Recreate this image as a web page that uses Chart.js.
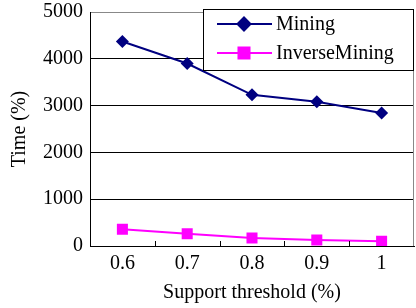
<!DOCTYPE html>
<html>
<head>
<meta charset="utf-8">
<script src="https://cdn.jsdelivr.net/npm/chart.js@4"></script>
<style>
  html, body { margin: 0; padding: 0; background: #fff; }
  #wrap { width: 416px; height: 308px; position: relative; }
</style>
</head>
<body>
<div id="wrap"><canvas id="c"></canvas></div>
<script>
  // support threshold (%) on x, time on y
  const thresholds = ["0.6", "0.7", "0.8", "0.9", "1"];
  const mining = [4370, 3900, 3230, 3080, 2840];
  const inverseMining = [360, 260, 170, 130, 100];
  const yTicks = [0, 1000, 2000, 3000, 4000, 5000];

  const FONT = "'Liberation Serif', 'Times New Roman', serif";

  // inward tick marks on the x axis + gray right border
  const frame = {
    id: "frame",
    afterDraw(chart){
      const {ctx, chartArea:a, scales:{x}} = chart;
      ctx.save();
      ctx.strokeStyle = "#000";
      ctx.lineWidth = 1;
      ctx.beginPath();
      for (let i = 1; i < thresholds.length; i++){
        const px = Math.round((x.getPixelForValue(i-1) + x.getPixelForValue(i)) / 2) + 0.5;
        ctx.moveTo(px, a.bottom);
        ctx.lineTo(px, a.bottom - 5);
      }
      ctx.stroke();
      ctx.strokeStyle = "#888";
      ctx.beginPath();
      ctx.moveTo(a.right - 0.5, a.top);
      ctx.lineTo(a.right - 0.5, a.bottom);
      ctx.stroke();
      ctx.restore();
    }
  };

  // boxed legend sitting over the top-right of the plot
  const boxLegend = {
    id: "boxLegend",
    afterDraw(chart){
      const ctx = chart.ctx;
      ctx.save();
      ctx.fillStyle = "#fff";
      ctx.fillRect(203.5, 9.5, 210, 61);
      ctx.strokeStyle = "#000";
      ctx.lineWidth = 1;
      ctx.strokeRect(203.5, 9.5, 210, 61);
      const rows = [24, 53];
      chart.data.datasets.forEach((ds, i) => {
        const y = rows[i];
        ctx.strokeStyle = ds.borderColor;
        ctx.lineWidth = 2;
        ctx.beginPath();
        ctx.moveTo(217, y);
        ctx.lineTo(272, y);
        ctx.stroke();
        Chart.helpers.drawPoint(ctx, {pointStyle: ds.pointStyle, radius: ds.pointRadius, borderWidth: 1}, 244, y);
        ctx.fillStyle = ds.borderColor;
        ctx.fill();
        ctx.fillStyle = "#000";
        ctx.font = "20px " + FONT;
        ctx.textBaseline = "middle";
        ctx.fillText(ds.label, 276, y + 1);
      });
      ctx.restore();
    }
  };

  new Chart(document.getElementById("c"), {
    type: "line",
    data: {
      labels: thresholds,
      datasets: [
        { label: "Mining", data: mining, borderColor: "#000080", backgroundColor: "#000080",
          borderWidth: 2, pointStyle: "rectRot", pointRadius: 6.5, pointBorderWidth: 0 },
        { label: "InverseMining", data: inverseMining, borderColor: "#ff00ff", backgroundColor: "#ff00ff",
          borderWidth: 2, pointStyle: "rect", pointRadius: 7.8, pointBorderWidth: 0 }
      ]
    },
    options: {
      responsive: true,
      maintainAspectRatio: false,
      animation: false,
      layout: { autoPadding: false, padding: { top: 12, right: 2, left: 0, bottom: 0 } },
      plugins: { legend: { display: false }, tooltip: { enabled: false } },
      scales: {
        x: {
          offset: true,
          grid: { display: true, drawOnChartArea: false, drawTicks: false, offset: true },
          border: { color: "#000", width: 1 },
          ticks: { color: "#000", font: { family: FONT, size: 20 }, padding: 6 },
          title: { display: true, text: "Support threshold (%)", color: "#000",
                   font: { family: FONT, size: 20 }, padding: { top: 0, bottom: 3 } },
          afterFit: s => { s.height = 62; s.paddingLeft = 0; s.paddingRight = 0; }
        },
        y: {
          min: 0, max: 5000,
          afterBuildTicks: s => { s.ticks = yTicks.map(v => ({ value: v })); },
          grid: { drawTicks: false, color: c => c.tick && c.tick.value === 5000 ? "#888" : "#000" },
          border: { color: "#000", width: 1 },
          ticks: { color: "#000", font: { family: FONT, size: 20 }, padding: 7, callback: v => String(v) },
          title: { display: true, text: "Time (%)", color: "#000",
                   font: { family: FONT, size: 20 }, padding: { top: 8, bottom: 0 } },
          afterFit: s => { s.width = 90; s.paddingTop = 0; s.paddingBottom = 0; }
        }
      }
    },
    plugins: [frame, boxLegend]
  });
</script>
</body>
</html>
